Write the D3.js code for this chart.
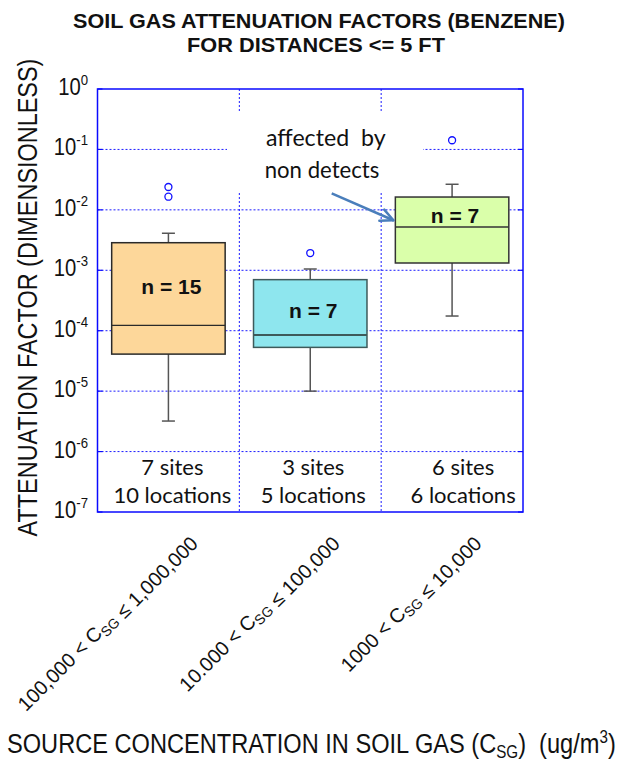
<!DOCTYPE html>
<html>
<head>
<meta charset="utf-8">
<script src="https://cdn.jsdelivr.net/npm/d3@7"></script>
<style>
  html, body { margin: 0; padding: 0; background: #fff; }
  svg text { white-space: pre; }
</style>
</head>
<body>
<div id="chart"></div>
<script>
// categories ({..} marks a subscript)
var categories = ["100,000 < C{SG} ≤ 1,000,000", "10.000 < C{SG} ≤ 100,000", "1000 < C{SG} ≤ 10,000"];

// box plot statistics
var whiskerLow = [3.2e-6, 1.0e-5, 1.75e-4];
var q1 = [4.1e-5, 5.3e-5, 1.32e-3];
var median = [1.23e-4, 8.5e-5, 5.2e-3];
var q3 = [2.86e-3, 7.0e-4, 1.63e-2];
var whiskerHigh = [4.1e-3, 1.05e-3, 2.65e-2];
var outliers = [[2.39e-2, 1.65e-2], [1.93e-3], [1.42e-1]];

var sampleCounts = [15, 7, 7];
var siteCounts = [7, 3, 6];
var locationCounts = [10, 5, 6];

var yTickExponents = [0, -1, -2, -3, -4, -5, -6, -7];
var boxFills = ["#FDD79A", "#8EE6EE", "#DAFFAA"];
var boxStrokes = ["#2a2a2a", "#3e5a5a", "#333333"];

var annotationLines = ["affected  by", "non detects"];
var annotationTarget = 6.0e-3; // arrow points at box 3

var W = 617, H = 761;
var margin = { top: 89, right: 94, bottom: 249, left: 97.5 };

var svg = d3.select("#chart").append("svg")
    .attr("width", W)
    .attr("height", H)
    .style("font-family", "'Liberation Sans', Arial, sans-serif");

var xScale = d3.scaleBand()
    .domain(categories)
    .range([margin.left, W - margin.right])
    .paddingInner(0)
    .paddingOuter(0);

var yScale = d3.scaleLog()
    .domain([1e-7, 1])
    .range([H - margin.bottom, margin.top]);

var x0 = xScale.range()[0], x1 = xScale.range()[1];
var yBottom = yScale.range()[0], yTop = yScale.range()[1];
var gridColor = "#1b1bff";

// place text at (x,y) with a rotation, squeezing it horizontally to a width
function fitText(sel, x, y, rot, width) {
    var w = sel.node().getBBox().width;
    var s = width ? width / w : 1;
    sel.attr("transform", "translate(" + x + "," + y + ") rotate(" + (rot || 0) + ") scale(" + s + ",1)");
    return sel;
}

// write a label where {..} is a subscript
function richText(sel, label, subSize, subDy) {
    var parts = label.split(/(\{[^}]*\})/);
    parts.forEach(function(p) {
        if (!p) return;
        if (p.charAt(0) === "{") {
            sel.append("tspan").attr("font-size", subSize).attr("dy", subDy).text(p.slice(1, -1));
            sel.append("tspan").attr("dy", -subDy).text("");
        } else {
            sel.append("tspan").text(p);
        }
    });
}

// Title
var title = svg.append("g").attr("font-weight", "bold").attr("font-size", 21).attr("fill", "#111");
fitText(title.append("text").attr("text-anchor", "middle").text("SOIL GAS ATTENUATION FACTORS (BENZENE)"), 319, 28.3, 0, 492);
fitText(title.append("text").attr("text-anchor", "middle").text("FOR DISTANCES <= 5 FT"), 316, 52.3, 0, 258);

// grid
var grid = svg.append("g")
    .attr("stroke", gridColor)
    .attr("stroke-width", 1)
    .attr("stroke-dasharray", "2,2");

grid.selectAll("line.h")
    .data(yTickExponents.slice(1, -1))
    .enter().append("line")
    .attr("class", "h")
    .attr("x1", x0).attr("x2", x1)
    .attr("y1", function(e) { return yScale(Math.pow(10, e)); })
    .attr("y2", function(e) { return yScale(Math.pow(10, e)); });

grid.selectAll("line.v")
    .data(categories.slice(1))
    .enter().append("line")
    .attr("class", "v")
    .attr("x1", function(c) { return xScale(c); })
    .attr("x2", function(c) { return xScale(c); })
    .attr("y1", yTop).attr("y2", yBottom);

// white text box of the annotation hides the grid behind it
svg.append("rect")
    .attr("x", 227).attr("y", 113)
    .attr("width", 196).attr("height", 80)
    .attr("fill", "#fff");

// boxes
var bw = xScale.bandwidth() * 0.8;
var capW = 13;
var boxes = svg.selectAll("g.box")
    .data(categories)
    .enter().append("g")
    .attr("class", "box");

boxes.each(function(c, i) {
    var g = d3.select(this);
    var cx = xScale(c) + xScale.bandwidth() / 2;

    // whiskers
    g.append("line")
        .attr("x1", cx).attr("x2", cx)
        .attr("y1", yScale(whiskerHigh[i])).attr("y2", yScale(q3[i]))
        .attr("stroke", "#555").attr("stroke-width", 1.5);
    g.append("line")
        .attr("x1", cx).attr("x2", cx)
        .attr("y1", yScale(q1[i])).attr("y2", yScale(whiskerLow[i]))
        .attr("stroke", "#555").attr("stroke-width", 1.5);
    [whiskerHigh[i], whiskerLow[i]].forEach(function(v) {
        g.append("line")
            .attr("x1", cx - capW / 2).attr("x2", cx + capW / 2)
            .attr("y1", yScale(v)).attr("y2", yScale(v))
            .attr("stroke", "#555").attr("stroke-width", 1.5);
    });

    g.append("rect")
        .attr("x", cx - bw / 2)
        .attr("y", yScale(q3[i]))
        .attr("width", bw)
        .attr("height", yScale(q1[i]) - yScale(q3[i]))
        .attr("fill", boxFills[i])
        .attr("stroke", boxStrokes[i])
        .attr("stroke-width", 1.5);

    g.append("line")
        .attr("x1", cx - bw / 2).attr("x2", cx + bw / 2)
        .attr("y1", yScale(median[i])).attr("y2", yScale(median[i]))
        .attr("stroke", boxStrokes[i]).attr("stroke-width", i === 1 ? 2 : 1.3);

    g.selectAll("circle")
        .data(outliers[i])
        .enter().append("circle")
        .attr("cx", cx)
        .attr("cy", function(v) { return yScale(v); })
        .attr("r", 3.5)
        .attr("fill", "#fff")
        .attr("stroke", "#1010ff")
        .attr("stroke-width", 1.3);

    // n = .. between the top of the box and the median
    var ny = (yScale(q3[i]) + yScale(median[i])) / 2 + 10.5;
    g.append("text")
        .attr("x", cx + 3).attr("y", ny)
        .attr("text-anchor", "middle")
        .attr("font-weight", "bold")
        .attr("font-size", 21)
        .attr("fill", "#111")
        .text("n = " + sampleCounts[i]);
});

// sites / locations
var siteDx = [4, 3, 11];
var siteG = svg.append("g").attr("font-family", "Lato, 'Open Sans', sans-serif").attr("font-size", 22).attr("fill", "#111");
categories.forEach(function(c, i) {
    var cx = xScale(c) + xScale.bandwidth() / 2 + siteDx[i];
    siteG.append("text").attr("x", cx).attr("y", 474.5).attr("text-anchor", "middle")
        .text(siteCounts[i] + " sites");
    siteG.append("text").attr("x", cx).attr("y", 503).attr("text-anchor", "middle")
        .text(locationCounts[i] + " locations");
});

// frame
svg.append("rect")
    .attr("x", x0).attr("y", yTop)
    .attr("width", x1 - x0).attr("height", yBottom - yTop)
    .attr("fill", "none")
    .attr("stroke", "#0a0aff")
    .attr("stroke-width", 1.5);

// inner ticks
var ticks = svg.append("g").attr("stroke", "#0a0aff").attr("stroke-width", 1.2);
yTickExponents.forEach(function(e) {
    var y = yScale(Math.pow(10, e));
    ticks.append("line").attr("x1", x0).attr("x2", x0 + 5).attr("y1", y).attr("y2", y);
    ticks.append("line").attr("x1", x1 - 5).attr("x2", x1).attr("y1", y).attr("y2", y);
});

// y tick labels
var yLab = svg.append("g").attr("font-size", 23).attr("fill", "#111");
yTickExponents.forEach(function(e) {
    var t = yLab.append("text").attr("text-anchor", "end");
    t.append("tspan").text("10");
    t.append("tspan").attr("font-size", 15).attr("dy", -10).text(String(e));
    var w = t.node().getBBox().width;
    fitText(t, 88, yScale(Math.pow(10, e)) + 6, 0, w * 0.88);
});

// y axis title
fitText(svg.append("text")
    .attr("text-anchor", "middle")
    .attr("font-size", 28)
    .attr("fill", "#111")
    .text("ATTENUATION FACTOR (DIMENSIONLESS)"), 36.7, 297.5, -90, 478);

// x category labels
var xLab = svg.append("g").attr("font-size", 20).attr("fill", "#111");
categories.forEach(function(c, i) {
    var t = xLab.append("text").attr("text-anchor", "end");
    richText(t, c, 14, 4);
    fitText(t, xScale(c) + xScale.bandwidth() / 2 + 28, 542, -45);
});

// x axis title
var xt = svg.append("text")
    .attr("font-size", 28)
    .attr("fill", "#111");
xt.append("tspan").text("SOURCE CONCENTRATION IN SOIL GAS (C");
xt.append("tspan").attr("font-size", 18).attr("dy", 5).text("SG");
xt.append("tspan").attr("dy", -5).text(")  (ug/m");
xt.append("tspan").attr("font-size", 18).attr("dy", -10).text("3");
xt.append("tspan").attr("dy", 10).text(")");
fitText(xt, 7, 753, 0, 609);

// annotation
var ann = svg.append("g").attr("font-family", "Lato, 'Open Sans', sans-serif").attr("font-size", 22.5).attr("fill", "#111");
fitText(ann.append("text").attr("text-anchor", "middle").text(annotationLines[0]), 325.8, 145.7, 0, 120);
fitText(ann.append("text").attr("text-anchor", "middle").text(annotationLines[1]), 322, 178.3, 0, 114.7);

var c3 = categories[2];
var tipX = xScale(c3) + xScale.bandwidth() / 2 - bw / 2 - 2;
var tipY = yScale(annotationTarget) - 3;
var arrowColor = "#4a7ebb";
svg.append("line")
    .attr("x1", 331.7).attr("y1", 193.3)
    .attr("x2", tipX).attr("y2", tipY)
    .attr("stroke", arrowColor).attr("stroke-width", 2.5);
var ang = Math.atan2(tipY - 193.3, tipX - 331.7);
[0.45, -0.45].forEach(function(d) {
    svg.append("line")
        .attr("x1", tipX).attr("y1", tipY)
        .attr("x2", tipX - 14 * Math.cos(ang + d)).attr("y2", tipY - 14 * Math.sin(ang + d))
        .attr("stroke", arrowColor).attr("stroke-width", 2.5)
        .attr("stroke-linecap", "round");
});
</script>
</body>
</html>
